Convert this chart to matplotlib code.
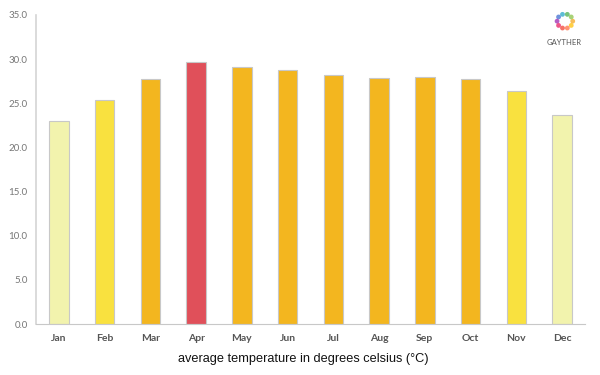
import numpy as np
import matplotlib
matplotlib.use("Agg")
import matplotlib.pyplot as plt

months = ["Jan", "Feb", "Mar", "Apr", "May", "Jun", "Jul", "Aug", "Sep", "Oct", "Nov", "Dec"]
temps = [23.0, 25.4, 27.7, 29.7, 29.1, 28.8, 28.2, 27.9, 28.0, 27.8, 26.4, 23.7]
colors = ["#f2f3ad", "#f9e13f", "#f3b61f", "#e0505a", "#f3b61f", "#f3b61f",
          "#f3b61f", "#f3b61f", "#f3b61f", "#f3b61f", "#f9e13f", "#f2f3ad"]
yticks = [0, 5, 10, 15, 20, 25, 30, 35]
logo_colors = ["#f5a623", "#8bc34a", "#4caf50", "#29a8c9", "#3f6fd1", "#9c27b0",
               "#e91e63", "#f44336", "#ff7043", "#ffc107"]

fig = plt.figure(figsize=(6, 3.75), dpi=100)
ax = fig.add_axes([0.06, 0.136, 0.915, 0.824])

x = np.arange(len(months))
ax.bar(x, temps, width=0.43, color=colors, edgecolor="#c8c8c8", linewidth=0.8, zorder=2)

ax.set_xlim(-0.5, len(months) - 0.5)
ax.set_ylim(0, 35)
ax.set_yticks(yticks)
ax.set_yticklabels([f"{v:.1f}" for v in yticks], fontsize=7, color="#777777", family="Lato")
ax.set_xticks(x)
ax.set_xticklabels(months, fontsize=7.5, color="#555555", fontweight="bold", family="Lato")
ax.tick_params(axis="x", length=0, pad=7)
ax.tick_params(axis="y", length=0, pad=6)

for side in ("top", "right"):
    ax.spines[side].set_visible(False)
ax.spines["left"].set_color("#d4d4d4")
ax.spines["bottom"].set_color("#c8c8c8")
ax.spines["left"].set_linewidth(1.2)

ax.set_xlabel("average temperature in degrees celsius (\u00b0C)", fontsize=9.2,
              family="Liberation Sans", color="#111111")
ax.xaxis.set_label_coords(0.487, -0.095)

# logo
lax = fig.add_axes([0.918, 0.909, 0.047, 0.069])
ang = np.linspace(0, 2 * np.pi, len(logo_colors), endpoint=False)
lax.scatter(np.cos(ang), np.sin(ang), s=12, c=logo_colors, alpha=0.75, linewidths=0)
lax.set_xlim(-1.8, 1.8)
lax.set_ylim(-1.8, 1.8)
lax.axis("off")
fig.text(0.941, 0.886, "GAYTHER", fontsize=5.5, color="#555555", ha="center", va="center", family="Lato")

fig.savefig("out.png", dpi=100)
